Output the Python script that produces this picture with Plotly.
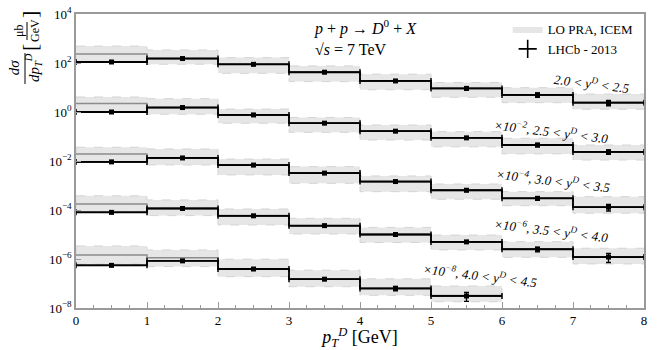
import numpy as np
import plotly.graph_objects as go

# pT bins of the D0 measurement, GeV
pt_edges = [0, 1, 2, 3, 4, 5, 6, 7, 8]

# rapidity intervals and the factor each one is scaled by on the plot
rap_bins = ["2.0 &lt; <i>y</i><sup><i>D</i></sup> &lt; 2.5",
            "2.5 &lt; <i>y</i><sup><i>D</i></sup> &lt; 3.0",
            "3.0 &lt; <i>y</i><sup><i>D</i></sup> &lt; 3.5",
            "3.5 &lt; <i>y</i><sup><i>D</i></sup> &lt; 4.0",
            "4.0 &lt; <i>y</i><sup><i>D</i></sup> &lt; 4.5"]
scale_exp = [0, -2, -4, -6, -8]

# LHCb 2013, dsigma/dpT in mub/GeV (unscaled) and relative uncertainty
lhcb_20_25 = [110, 152, 88, 42, 18.5, 9.2, 5.0, 2.4]
lhcb_25_30 = [100, 152, 76, 35, 16.5, 8.8, 4.5, 2.35]
lhcb_30_35 = [92, 133, 68, 32, 14.5, 6.4, 3.0, 1.3]
lhcb_35_40 = [80, 115, 58, 23, 10.0, 5.0, 2.5, 1.2]
lhcb_40_45 = [55, 84, 39, 15, 6.3, 3.1]

lhcb_err_20_25 = [0.06, 0.05, 0.06, 0.07, 0.08, 0.15, 0.2, 0.25]
lhcb_err_25_30 = [0.06, 0.05, 0.06, 0.07, 0.08, 0.1, 0.15, 0.2]
lhcb_err_30_35 = [0.06, 0.05, 0.06, 0.07, 0.1, 0.12, 0.18, 0.3]
lhcb_err_35_40 = [0.06, 0.06, 0.07, 0.08, 0.1, 0.12, 0.22, 0.4]
lhcb_err_40_45 = [0.08, 0.07, 0.08, 0.1, 0.2, 0.4]

# LO PRA + ICEM: central value and scale-variation band (mub/GeV, unscaled)
pra_20_25 = [234, 155, 89, 42, 18.6, 9.3, 4.9, 2.5]
pra_hi_20_25 = [490, 340, 166, 76, 35, 16, 9.8, 5.4]
pra_lo_20_25 = [110, 89, 38, 17.4, 8.1, 4.0, 2.4, 1.3]

pra_25_30 = [220, 155, 76, 35, 16.6, 8.9, 4.5, 2.4]
pra_hi_25_30 = [410, 350, 132, 60, 29.5, 15.8, 8.5, 4.5]
pra_lo_25_30 = [100, 81, 35, 14.8, 7.2, 3.8, 1.95, 1.1]

pra_30_35 = [195, 135, 69, 32, 14.5, 6.3, 3.0, 1.3]
pra_hi_30_35 = [363, 310, 120, 59, 24.5, 11.5, 5.6, 3.5]
pra_lo_30_35 = [93, 69, 27, 12.3, 5.6, 2.75, 1.5, 0.74]

pra_35_40 = [174, 117, 59, 23, 10, 5.1, 2.5, 1.17]
pra_hi_35_40 = [380, 257, 110, 46, 19.5, 9.5, 5.1, 2.75]
pra_lo_35_40 = [85, 59, 24.5, 10.5, 4.7, 2.35, 1.17, 0.63]

pra_40_45 = [145, 112, 39, 15, 6.2, 3.2]
pra_hi_40_45 = [340, 234, 98, 35, 15.5, 7.9]
pra_lo_40_45 = [62, 49, 19, 7.4, 3.3, 1.8]

series = [
    (lhcb_20_25, lhcb_err_20_25, pra_20_25, pra_lo_20_25, pra_hi_20_25),
    (lhcb_25_30, lhcb_err_25_30, pra_25_30, pra_lo_25_30, pra_hi_25_30),
    (lhcb_30_35, lhcb_err_30_35, pra_30_35, pra_lo_30_35, pra_hi_30_35),
    (lhcb_35_40, lhcb_err_35_40, pra_35_40, pra_lo_35_40, pra_hi_35_40),
    (lhcb_40_45, lhcb_err_40_45, pra_40_45, pra_lo_40_45, pra_hi_40_45),
]

# where each rapidity label sits (pT, log10 of plotted value)
label_pos = [(7.27, 1.2), (6.7, -0.78), (6.72, -2.78), (6.7, -4.82), (5.7, -6.65)]

SERIF = "Liberation Serif"
BAND = "#e6e6e6"
L, R, T, B = 76, 20, 14, 42
W, H = 664, 350


def step(vals, n):
    x = pt_edges[: n + 1]
    return x, list(vals) + [vals[-1]]


def band_poly(lo, hi):
    xs, ys = [], []
    for i, v in enumerate(hi):
        xs += [pt_edges[i], pt_edges[i + 1]]
        ys += [v, v]
    for i in range(len(lo) - 1, -1, -1):
        xs += [pt_edges[i + 1], pt_edges[i]]
        ys += [lo[i], lo[i]]
    return xs + [xs[0]], ys + [ys[0]]


def px(x):
    return (x - L) / (W - L - R)


def py(y):
    return 1 - (y - T) / (H - T - B)


def side_text(x, y, text, size, angle=-90):
    fig.add_annotation(x=px(x), y=py(y), xref="paper", yref="paper",
                       xanchor="center", yanchor="middle", textangle=angle,
                       showarrow=False, text=text,
                       font=dict(family=SERIF, size=size, color="black"))


fig = go.Figure()

# bands first so the lines sit on top
for k, (data, err, cen, lo, hi) in enumerate(series):
    f = 10.0 ** scale_exp[k]
    bx, by = band_poly(np.array(lo) * f, np.array(hi) * f)
    fig.add_trace(go.Scatter(
        x=bx, y=by, mode="lines", fill="toself", fillcolor=BAND,
        line=dict(color="#d4d4d4", width=1, dash="dash"),
        showlegend=False, hoverinfo="skip",
    ))

for k, (data, err, cen, lo, hi) in enumerate(series):
    f = 10.0 ** scale_exp[k]
    n = len(data)
    sx, sy = step(np.array(cen) * f, n)
    fig.add_trace(go.Scatter(x=sx, y=sy, mode="lines", line_shape="hv",
                             line=dict(color="#8c8c8c", width=1.5),
                             showlegend=False, hoverinfo="skip"))
    dx, dy = step(np.array(data) * f, n)
    fig.add_trace(go.Scatter(x=dx, y=dy, mode="lines", line_shape="hv",
                             line=dict(color="black", width=1.8),
                             showlegend=False, hoverinfo="skip"))
    centers = [(pt_edges[i] + pt_edges[i + 1]) / 2 for i in range(n)]
    yv = np.array(data) * f
    fig.add_trace(go.Scatter(
        x=centers, y=yv, mode="markers",
        marker=dict(symbol="square", size=5, color="black"),
        error_y=dict(type="data", array=yv * np.array(err), color="black",
                     thickness=1.3, width=2.5),
        error_x=dict(type="data", array=[0.5] * n, color="black",
                     thickness=1.5, width=3),
        showlegend=False,
    ))

# legend entries
fig.add_trace(go.Scatter(
    x=[None], y=[None], mode="lines", fill="toself", fillcolor=BAND,
    line=dict(width=0, color=BAND), name="LO PRA, ICEM",
))
fig.add_trace(go.Scatter(
    x=[None], y=[None], mode="markers", name="LHCb - 2013",
    marker=dict(symbol="cross-thin", size=13, line=dict(color="black", width=1.6)),
))

for k, (lx, ly) in enumerate(label_pos):
    txt = rap_bins[k] if scale_exp[k] == 0 else \
        "×10<sup>−%d</sup>, %s" % (-scale_exp[k], rap_bins[k])
    fig.add_annotation(x=lx, y=ly, text="<i>" + txt + "</i>", showarrow=False,
                       textangle=7, font=dict(family=SERIF, size=13, color="black"))

fig.add_annotation(
    x=px(312), y=py(15), xref="paper", yref="paper", xanchor="left", yanchor="top",
    align="left", showarrow=False,
    text="<i>p</i> + <i>p</i> → <i>D</i><sup>0</sup> + <i>X</i><br>√<i>s</i> = 7 TeV",
    font=dict(family=SERIF, size=16, color="black"),
)

# y title drawn as stacked fractions, like the original
side_text(25, 68, "<i>dσ</i><br><i>dp</i><sub><i>T</i></sub><sup><i>D</i></sup>", 15)
side_text(27, 31, "μb<br>GeV", 12)
side_text(29, 48, "[", 22)
side_text(29, 15, "]", 22)
fig.add_shape(type="line", xref="paper", yref="paper",
              x0=px(25), x1=px(25), y0=py(53), y1=py(84),
              line=dict(color="black", width=1))
fig.add_shape(type="line", xref="paper", yref="paper",
              x0=px(27), x1=px(27), y0=py(22), y1=py(40),
              line=dict(color="black", width=1))

ytick_vals = [10.0 ** e for e in range(-8, 5, 2)]
ytick_text = ["10<sup>%s</sup>" % (str(e).replace("-", "−")) for e in range(-8, 5, 2)]

fig.update_layout(
    width=W, height=H,
    margin=dict(l=L, r=R, t=T, b=B, autoexpand=False),
    plot_bgcolor="white", paper_bgcolor="white",
    font=dict(family=SERIF, size=13, color="black"),
    legend=dict(x=0.76, y=1.0, xanchor="left", yanchor="top",
                bgcolor="rgba(0,0,0,0)", font=dict(family=SERIF, size=13),
                tracegroupgap=0, itemwidth=30),
    xaxis=dict(
        range=[0, 8], dtick=1, showgrid=False, zeroline=False, automargin=False,
        showline=True, linecolor="#9a9a9a", linewidth=1.5, mirror=True,
        ticks="inside", ticklen=6, tickcolor="#9a9a9a",
        minor=dict(dtick=0.25, ticks="inside", ticklen=3, tickcolor="#9a9a9a"),
        title=dict(text="<i>p</i><sub><i>T</i></sub><sup><i>D</i></sup> [GeV]",
                   font=dict(family=SERIF, size=18), standoff=2),
        tickfont=dict(family=SERIF, size=13),
    ),
    yaxis=dict(
        type="log", range=[-8, 4], showgrid=False, zeroline=False, automargin=False,
        showline=True, linecolor="#9a9a9a", linewidth=1.5, mirror=True,
        ticks="inside", ticklen=5, tickcolor="#9a9a9a",
        tickvals=ytick_vals, ticktext=ytick_text,
        tickfont=dict(family=SERIF, size=13),
    ),
)

fig.write_html("out.html", config={"displayModeBar": False},
               post_script="document.body.style.margin='0';")
